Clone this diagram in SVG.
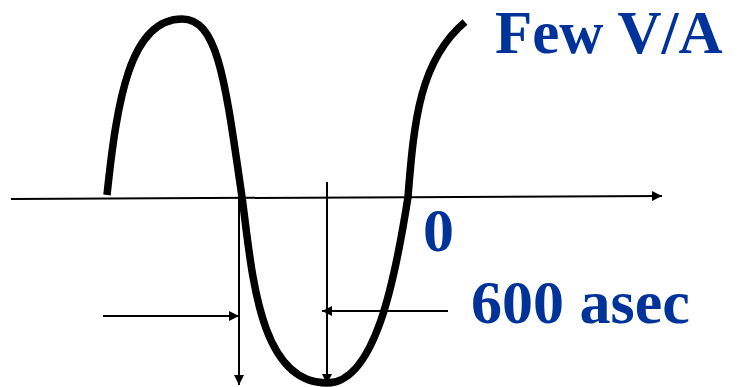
<svg xmlns="http://www.w3.org/2000/svg" width="738" height="387" viewBox="0 0 738 387">
<defs>
<marker id="ah" viewBox="0 0 10 10" refX="10" refY="5" markerWidth="10" markerHeight="10" markerUnits="userSpaceOnUse" orient="auto">
<path d="M0,0 L10,5 L0,10 Z" fill="#000"/>
</marker>
<style>
.ln{stroke:#000;stroke-width:2;fill:none}
.lbl{font-family:"Liberation Serif","Times New Roman",serif;font-weight:bold;font-size:62px;fill:#003399}
</style>
</defs>
<rect width="738" height="387" fill="#fff"/>
<g id="connectors">
<line class="ln" x1="11" y1="199" x2="662" y2="196" marker-end="url(#ah)"/>
<line class="ln" x1="239" y1="198" x2="239" y2="385" marker-end="url(#ah)"/>
<line class="ln" x1="327" y1="182" x2="327" y2="384" marker-end="url(#ah)"/>
<line class="ln" x1="103" y1="316" x2="239" y2="316" marker-end="url(#ah)"/>
<line class="ln" x1="448" y1="311" x2="322" y2="311" marker-end="url(#ah)"/>
</g>
<g id="wave">
<path d="M107,195 C117,100 130,19 182,19 C218,19 225,80 242,197 C252,270 258,383 327,383 C375,383 395,280 408,197 C414,120 420,60 465,22" fill="none" stroke="#000" stroke-width="7.5"/>
</g>
<g id="label-few"><text class="lbl" x="495" y="53" style="font-size:61px">Few V/A</text></g>
<g id="label-zero"><text class="lbl" x="423" y="251">0</text></g>
<g id="label-600"><text class="lbl" x="471" y="323">600 asec</text></g>
</svg>
